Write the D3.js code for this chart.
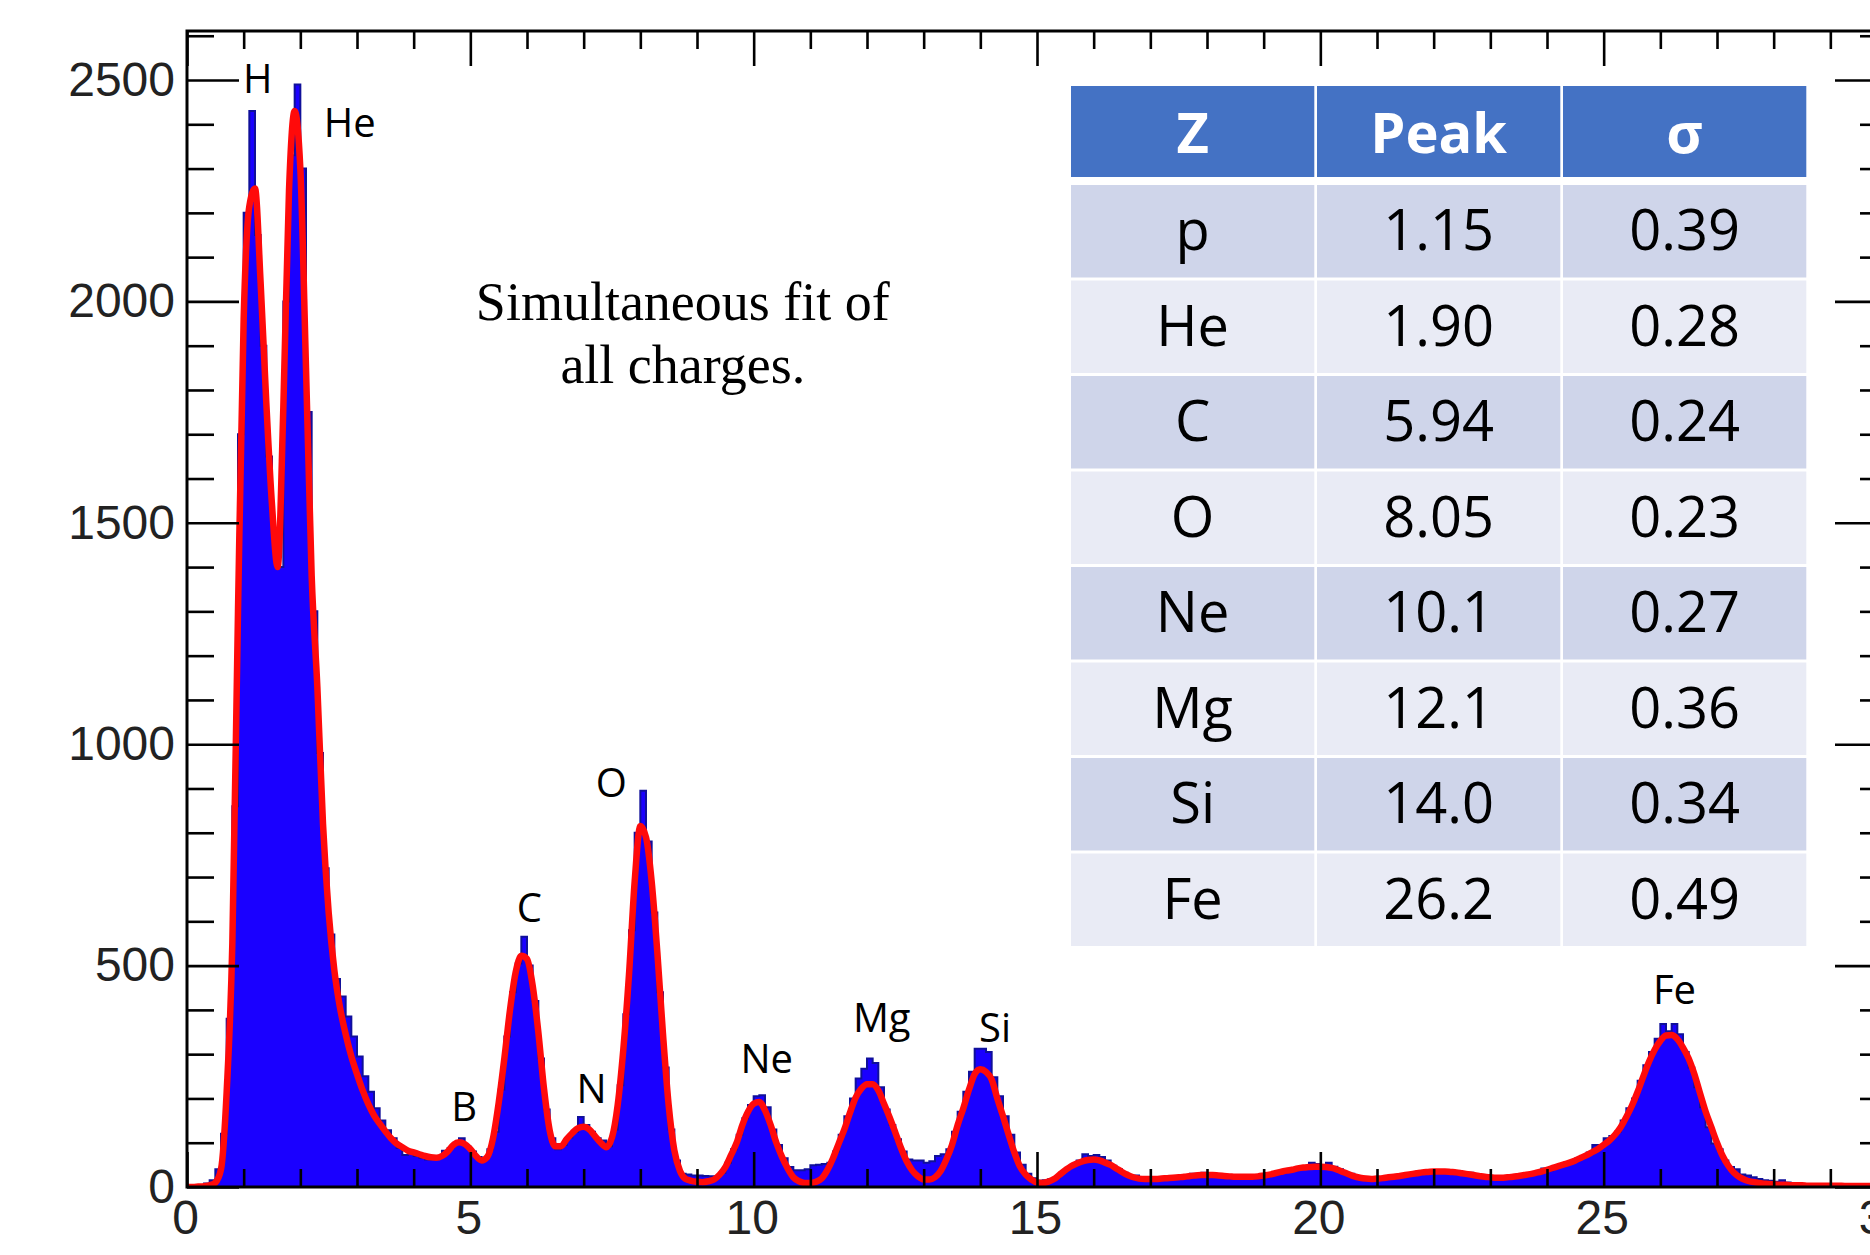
<!DOCTYPE html>
<html><head><meta charset="utf-8">
<script src="https://cdn.jsdelivr.net/npm/d3@7"></script>
<style>
html,body{margin:0;padding:0;background:#fff;}
svg{display:block;}
</style></head>
<body><svg id="chart" width="1870" height="1255"></svg>
<script>
// ---------------- DATA ----------------
const binWidth = 0.1;           // histogram bin width (charge units)
const fitStep = 0.1;            // sampling step of the fitted curve

// Histogram counts, one value per 0.1 bin, rows = integer charge units 0..29
const histCounts = [
  0,2,4,8,15,40,120,380,860,1700,
  2200,2430,2150,1900,1650,1480,1400,2000,2330,2490,
  2300,1750,1300,980,720,570,470,430,385,340,
  295,250,215,178,150,128,110,88,72,80,
  70,66,62,70,66,82,88,100,110,92,
  80,68,62,85,125,220,340,440,505,565,
  500,420,290,175,110,85,95,112,125,158,
  140,125,110,105,92,130,230,390,580,800,
  895,780,620,440,270,130,60,30,28,26,
  26,25,24,22,32,55,85,118,155,185,
  205,207,180,130,95,65,45,38,38,40,
  49,50,52,55,80,118,160,200,245,267,
  290,280,225,175,140,108,80,62,60,60,
  55,58,70,74,85,125,170,215,260,312,
  312,305,248,205,160,118,78,50,30,20,
  14,15,18,22,32,42,52,60,74,70,
  72,68,60,48,40,32,25,26,20,16,
  15,17,18,19,22,20,24,30,28,32,
  30,26,24,20,21,19,22,26,22,20,
  25,28,30,35,40,38,45,42,55,52,
  48,55,46,40,32,30,25,20,15,16,
  18,20,22,24,26,30,28,35,33,38,
  36,37,34,36,33,30,32,26,24,20,
  18,20,19,24,22,28,25,32,30,42,
  38,45,50,55,58,65,70,78,95,90,
  110,115,125,150,178,200,240,275,305,335,
  368,352,368,345,305,270,225,180,135,98,
  85,60,45,40,28,26,22,18,15,14,
  12,15,10,8,8,6,5,5,4,3,
  2,2,2,1,1,1,1,1,1,1
];

// Simultaneous fit (red curve), sampled every 0.1 from 0.0 to 30.0
const fitValues = [
  0,0,1,2,4,10,40,215,550,1300,
  1960,2215,2255,2040,1770,1540,1400,1760,2250,2430,
  2300,1850,1380,1130,820,620,490,405,345,295,
  255,218,187,162,143,126,110,98,90,82,
  78,74,70,67,66,70,80,95,101,97,
  86,70,60,68,110,190,290,400,485,522,
  515,455,350,222,128,92,92,108,122,133,
  136,130,115,100,90,112,185,311,480,690,
  815,790,690,530,345,185,83,36,18,14,
  12,11,13,17,28,45,72,100,140,170,
  188,192,173,140,100,68,42,22,13,9,
  9,12,19,38,65,98,130,168,202,222,
  232,232,218,188,157,123,88,58,37,24,
  17,17,22,36,62,95,140,178,220,255,
  266,260,243,200,160,118,78,46,28,17,
  10,9,12,18,28,38,47,53,58,61,
  62,60,55,50,42,34,27,22,19,18,
  18,18,19,20,21,22,23,25,26,27,
  27,27,26,25,24,23,23,23,23,24,
  26,28,31,34,37,39,42,44,45,46,
  46,45,43,39,34,29,24,21,19,18,
  19,20,22,23,25,27,29,31,33,34,
  35,35,35,34,33,31,29,27,25,23,
  22,21,21,22,23,25,27,29,32,35,
  39,43,47,51,55,60,66,72,79,86,
  95,105,118,135,158,184,215,250,283,310,
  330,342,343,334,315,290,255,212,170,135,
  100,70,48,32,22,16,12,10,8,7,
  6,5,5,4,4,4,3,3,3,3,
  3,3,3,2,2,2,2,2,2,2,
  2
];

const xTickLabels = [0, 5, 10, 15, 20, 25, 30];
const yTickLabels = [0, 500, 1000, 1500, 2000, 2500];

const peakNames = ["H", "He", "B", "C", "N", "O", "Ne", "Mg", "Si", "Fe"];

const tableHeader = ["Z", "Peak", "σ"];
const tableZ      = ["p", "He", "C", "O", "Ne", "Mg", "Si", "Fe"];
const tablePeak   = ["1.15", "1.90", "5.94", "8.05", "10.1", "12.1", "14.0", "26.2"];
const tableSigma  = ["0.39", "0.28", "0.24", "0.23", "0.27", "0.36", "0.34", "0.49"];

const noteLines = ["Simultaneous fit of", "all charges."];

// ---------------- LAYOUT ----------------
// label anchor positions, in data units (centre x, baseline y)
const peakLabelPos = [[1.25,2471],[2.87,2371],[4.89,149],[6.04,598],[7.14,190],
                      [7.49,881],[10.23,257],[12.26,350],[14.26,327],[26.25,413]];
const notePos = {x: 8.75, y: [1957, 1815]};

const W = 1870, H = 1255;
const plot = {left: 187, right: 1887, top: 31, bottom: 1187};

const svg = d3.select("#chart");
svg.append("rect").attr("width", W).attr("height", H).attr("fill", "#fff");

const x = d3.scaleLinear().domain([0, 30]).range([plot.left, plot.right]);
const y = d3.scaleLinear().domain([0, 2610.7]).range([plot.bottom, plot.top]);

svg.append("defs").append("clipPath").attr("id", "plotClip")
  .append("rect").attr("x", plot.left).attr("y", plot.top)
  .attr("width", plot.right - plot.left).attr("height", plot.bottom - plot.top);

const gPlot = svg.append("g").attr("clip-path", "url(#plotClip)");

// histogram
const histPts = histCounts.map((c, i) => [i * binWidth, c]);
histPts.push([histCounts.length * binWidth, histCounts[histCounts.length - 1]]);

gPlot.append("path")
  .datum(histPts)
  .attr("fill", "#1a00ff")
  .attr("d", d3.area().x(d => x(d[0])).y0(y(0)).y1(d => y(d[1])).curve(d3.curveStepAfter));

gPlot.append("path")
  .datum(histPts)
  .attr("fill", "none")
  .attr("stroke", "#10109a")
  .attr("stroke-width", 2)
  .attr("d", d3.line().x(d => x(d[0])).y(d => y(d[1])).curve(d3.curveStepAfter));

// fit
const fitPts = fitValues.map((v, i) => [i * fitStep, v]);
gPlot.append("path")
  .datum(fitPts)
  .attr("fill", "none")
  .attr("stroke", "#ff0a0a")
  .attr("stroke-width", 6.5)
  .attr("stroke-linejoin", "round")
  .attr("d", d3.line().x(d => x(d[0])).y(d => y(d[1])).curve(d3.curveMonotoneX));

// axes
const xAll = d3.range(0, 31);
const xMinor = xAll.filter(v => v % 5 !== 0);
const yAll = d3.range(0, 2601, 100);
const yMinor = yAll.filter(v => v % 500 !== 0);

function styleAxis(g) {
  g.select(".domain").remove();
  g.selectAll(".tick line").attr("stroke", "#000").attr("stroke-width", 2.6);
  g.selectAll(".tick text")
    .attr("fill", "#222")
    .style("font-family", "'Liberation Sans', Arial, Helvetica, sans-serif")
    .style("font-size", "48px");
}

svg.append("g").attr("transform", `translate(0,${plot.bottom})`)
  .call(d3.axisBottom(x).tickValues(xMinor).tickSize(-18).tickFormat(""))
  .call(styleAxis);
svg.append("g").attr("transform", `translate(0,${plot.bottom})`)
  .call(d3.axisBottom(x).tickValues(xTickLabels).tickSize(-35).tickPadding(13).tickFormat(d3.format("d")))
  .call(styleAxis)
  .call(g => g.selectAll(".tick text").attr("dx", -2));

svg.append("g").attr("transform", `translate(0,${plot.top})`)
  .call(d3.axisTop(x).tickValues(xMinor).tickSize(-18).tickFormat(""))
  .call(styleAxis);
svg.append("g").attr("transform", `translate(0,${plot.top})`)
  .call(d3.axisTop(x).tickValues(xTickLabels).tickSize(-35).tickFormat(""))
  .call(styleAxis);

svg.append("g").attr("transform", `translate(${plot.left},0)`)
  .call(d3.axisLeft(y).tickValues(yMinor).tickSize(-27).tickFormat(""))
  .call(styleAxis);
svg.append("g").attr("transform", `translate(${plot.left},0)`)
  .call(d3.axisLeft(y).tickValues(yTickLabels).tickSize(-52).tickPadding(12).tickFormat(d3.format("d")))
  .call(styleAxis);

svg.append("g").attr("transform", `translate(${plot.right},0)`)
  .call(d3.axisRight(y).tickValues(yMinor).tickSize(-27).tickFormat(""))
  .call(styleAxis);
svg.append("g").attr("transform", `translate(${plot.right},0)`)
  .call(d3.axisRight(y).tickValues(yTickLabels).tickSize(-52).tickFormat(""))
  .call(styleAxis);

// frame
svg.append("rect")
  .attr("x", plot.left).attr("y", plot.top)
  .attr("width", plot.right - plot.left).attr("height", plot.bottom - plot.top)
  .attr("fill", "none").attr("stroke", "#000").attr("stroke-width", 3);

// peak labels
svg.append("g").selectAll("text").data(peakNames).join("text")
  .attr("x", (d, i) => x(peakLabelPos[i][0]))
  .attr("y", (d, i) => y(peakLabelPos[i][1]))
  .attr("text-anchor", "middle")
  .style("font-family", "'Open Sans', 'Noto Sans', sans-serif")
  .style("font-size", "40px")
  .attr("fill", "#000")
  .text(d => d);

// annotation
svg.append("g").selectAll("text").data(noteLines).join("text")
  .attr("x", x(notePos.x))
  .attr("y", (d, i) => y(notePos.y[i]))
  .attr("text-anchor", "middle")
  .style("font-family", "'Liberation Serif', 'Times New Roman', serif")
  .style("font-size", "54px")
  .attr("fill", "#000")
  .text(d => d);

// table
const tbl = {left: 1071, top: 86, colPitch: 246, colW: 243.3, headH: 91,
             rowTop: 185, rowPitch: 95.5, rowH: 92.5};
const gT = svg.append("g");
const cols = [tableZ, tablePeak, tableSigma];
const colCenter = j => tbl.left + j * tbl.colPitch + tbl.colW / 2;

tableHeader.forEach((h, j) => {
  gT.append("rect")
    .attr("x", tbl.left + j * tbl.colPitch).attr("y", tbl.top)
    .attr("width", tbl.colW).attr("height", tbl.headH)
    .attr("fill", "#4472c4");
  gT.append("text")
    .attr("x", colCenter(j)).attr("y", tbl.top + 67)
    .attr("text-anchor", "middle")
    .style("font-family", "'Open Sans', 'Noto Sans', sans-serif")
    .style("font-weight", "700")
    .style("font-size", "56px")
    .attr("fill", "#fff")
    .text(h);
});

tableZ.forEach((z, i) => {
  const top = tbl.rowTop + i * tbl.rowPitch;
  cols.forEach((col, j) => {
    gT.append("rect")
      .attr("x", tbl.left + j * tbl.colPitch).attr("y", top)
      .attr("width", tbl.colW).attr("height", tbl.rowH)
      .attr("fill", i % 2 === 0 ? "#cfd5ea" : "#e9ebf5");
    gT.append("text")
      .attr("x", colCenter(j)).attr("y", top + 65)
      .attr("text-anchor", "middle")
      .style("font-family", "'Open Sans', 'Noto Sans', sans-serif")
      .style("font-size", "56px")
      .attr("fill", "#000")
      .text(col[i]);
  });
});
</script>
</body></html>
